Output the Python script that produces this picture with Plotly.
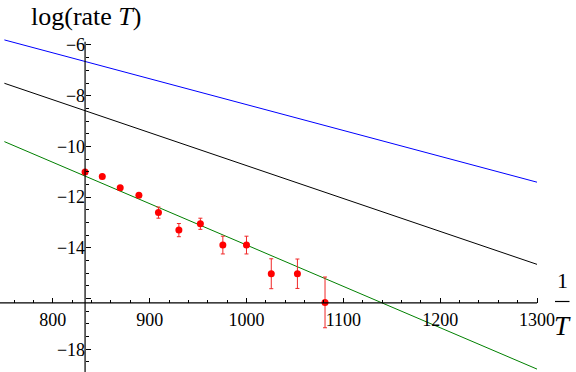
import numpy as np
import plotly.graph_objects as go

# ---- data ----
inv_T = [833.3, 851.1, 869.6, 888.9, 909.1, 930.2, 952.4, 975.6, 1000.0, 1025.6, 1052.6, 1081.1]
log_rate = [-11.01, -11.19, -11.63, -11.93, -12.61, -13.30, -13.05, -13.89, -13.89, -15.02, -15.02, -16.15]
err = [0.08, 0.08, 0.08, 0.08, 0.22, 0.26, 0.22, 0.35, 0.35, 0.59, 0.58, 1.0]

line_x = [750, 1300]
blue_y = [-5.80, -11.41]
black_y = [-7.51, -14.65]
green_y = [-9.81, -18.78]

x_ticks = [800, 900, 1000, 1100, 1200, 1300]
x_ticktext = ["800", "900", "1000", "1100", "1200", "1300"]
y_ticks = [-18, -16, -14, -12, -10, -8, -6]
y_ticktext = ["\u221218", "", "\u221214", "\u221212", "\u221210", "\u22128", "\u22126"]

# ---- layout constants ----
W, H = 576, 372
x_range = [745.48, 1340.27]
y_range = [-18.895, -4.226]
x_origin = 833.33
y_origin = -16.17
y_axis_top = -5.87
x_axis_right = 1300

x_minor = [v for v in range(760, 1300, 20) if v % 100 != 0]
y_minor = [v for v in np.arange(-18.5, -6.0, 0.5) if v % 2 != 0]

serif = "Liberation Serif"

fig = go.Figure()
fig.add_trace(go.Scatter(x=line_x, y=blue_y, mode="lines",
                         line=dict(color="rgb(0,0,255)", width=1), hoverinfo="skip"))
fig.add_trace(go.Scatter(x=line_x, y=black_y, mode="lines",
                         line=dict(color="black", width=1), hoverinfo="skip"))
fig.add_trace(go.Scatter(x=line_x, y=green_y, mode="lines",
                         line=dict(color="rgb(0,128,0)", width=1), hoverinfo="skip"))
fig.add_trace(go.Scatter(x=inv_T, y=log_rate, mode="markers",
                         marker=dict(color="rgb(255,0,0)", size=7),
                         error_y=dict(type="data", array=err, color="rgb(240,40,40)",
                                      thickness=1, width=2),
                         cliponaxis=False))

# axis lines
fig.add_shape(type="line", xref="x", yref="y", x0=x_range[0], x1=x_axis_right,
              y0=y_origin, y1=y_origin, line=dict(color="black", width=1.2), layer="above")
fig.add_shape(type="line", xref="x", yref="y", x0=x_origin, x1=x_origin,
              y0=y_range[0], y1=y_axis_top, line=dict(color="black", width=1.2), layer="above")

px_y = (y_origin - y_range[0]) / (y_range[1] - y_range[0])
px_x = (x_origin - x_range[0]) / (x_range[1] - x_range[0])

fig.update_layout(
    width=W, height=H, margin=dict(l=0, r=0, t=0, b=0),
    paper_bgcolor="white", plot_bgcolor="white", showlegend=False,
    font=dict(family=serif, size=18, color="black"),
    xaxis=dict(range=x_range, domain=[0, 1], anchor="free", position=px_y,
               showgrid=False, zeroline=False, showline=False,
               tickmode="array", tickvals=x_ticks, ticktext=x_ticktext,
               ticks="inside", ticklen=5, tickwidth=1, tickcolor="black",
               ticklabelstandoff=4,
               minor=dict(tickmode="array", tickvals=x_minor, ticks="inside",
                          ticklen=3, tickwidth=1, tickcolor="black", showgrid=False),
               tickfont=dict(family=serif, size=18), automargin=False),
    yaxis=dict(range=y_range, domain=[0, 1], anchor="free", position=px_x,
               showgrid=False, zeroline=False, showline=False,
               tickmode="array", tickvals=y_ticks, ticktext=y_ticktext,
               ticks="inside", ticklen=5, tickwidth=1, tickcolor="black",
               minor=dict(tickmode="array", tickvals=y_minor, ticks="inside",
                          ticklen=3, tickwidth=1, tickcolor="black", showgrid=False),
               tickfont=dict(family=serif, size=18), automargin=False),
)

# axis labels
fig.add_annotation(xref="paper", yref="paper", x=86 / W, y=1 - 17 / H,
                   text="log(rate <i>T</i>)", showarrow=False,
                   font=dict(family=serif, size=26), xanchor="center", yanchor="middle")
fig.add_annotation(xref="paper", yref="paper", x=562 / W, y=1 - 280 / H,
                   text="1", showarrow=False,
                   font=dict(family=serif, size=22), xanchor="center", yanchor="middle")
fig.add_shape(type="line", xref="paper", yref="paper", x0=555 / W, x1=569.5 / W,
              y0=1 - 301.5 / H, y1=1 - 301.5 / H, line=dict(color="black", width=1.2))
fig.add_annotation(xref="paper", yref="paper", x=562 / W, y=1 - 326 / H,
                   text="<i>T</i>", showarrow=False,
                   font=dict(family=serif, size=27), xanchor="center", yanchor="middle")

fig.write_html("out.html",
               config={"displayModeBar": False},
               post_script="document.body.style.margin='0';document.body.style.overflow='hidden';")
